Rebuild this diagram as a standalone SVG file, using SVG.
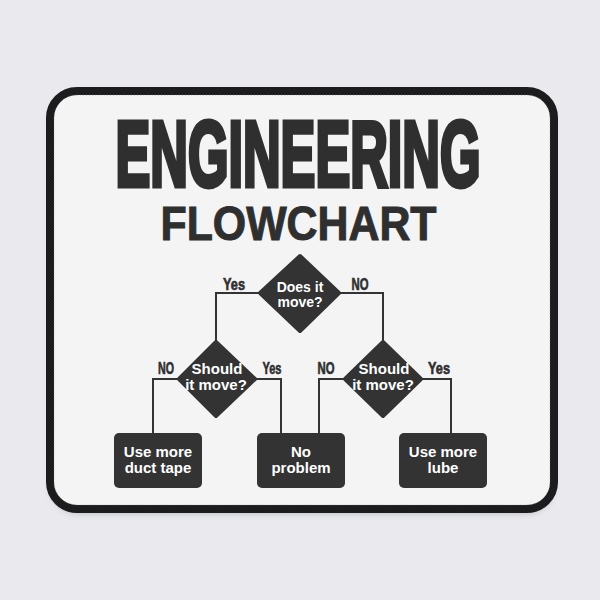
<svg xmlns="http://www.w3.org/2000/svg" width="600" height="600" viewBox="0 0 600 600">
<defs>
<filter id="sh" x="-10%" y="-10%" width="120%" height="130%">
<feGaussianBlur stdDeviation="3"/>
</filter>
</defs>
<style>
.title{font-family:"Liberation Sans",Arial,sans-serif;font-weight:bold;fill:#2f2f2f;stroke:#2f2f2f;stroke-linejoin:miter;text-anchor:middle}
.node{fill:#333333}
.dia{fill:#333333;stroke:#333333;stroke-width:4;stroke-linejoin:round}
.ntext{font-family:"Liberation Sans",Arial,sans-serif;font-weight:bold;fill:#ffffff;text-anchor:middle}
.lbl{font-family:"Liberation Sans",Arial,sans-serif;font-weight:bold;fill:#2f2f2f;stroke:#2f2f2f;stroke-width:0.6;text-anchor:middle;font-size:16px}
.conn{fill:none;stroke:#333333;stroke-width:2}
</style>
<rect x="0" y="0" width="600" height="600" fill="#e9e9ee"/>
<g id="mat">
<rect x="50" y="94" width="504" height="420" rx="28" fill="#9a9aa4" opacity="0.5" filter="url(#sh)"/>
<rect x="50" y="91" width="504" height="418" rx="27" fill="#f4f4f4" stroke="#1c1c1e" stroke-width="8"/>
<rect x="54" y="95" width="496" height="410" rx="23" fill="none" stroke="#777" stroke-width="1" stroke-dasharray="1 2" opacity="0.6"/>
</g>
<g id="title">
<text class="title" x="298" y="185.5" font-size="93" stroke-width="5" textLength="365" lengthAdjust="spacingAndGlyphs">ENGINEERING</text>
<text class="title" x="298.5" y="239.5" font-size="48" stroke-width="1" textLength="276" lengthAdjust="spacingAndGlyphs">FLOWCHART</text>
</g>
<g id="connectors">
<path class="conn" d="M262,293 H216 V345"/>
<path class="conn" d="M338,293 H383 V345"/>
<path class="conn" d="M180,379 H153 V434"/>
<path class="conn" d="M253,379 H281 V434"/>
<path class="conn" d="M346,379 H319 V434"/>
<path class="conn" d="M420,379 H451 V434"/>
</g>
<g id="labels">
<text class="lbl" x="234" y="290" font-size="17" textLength="22" lengthAdjust="spacingAndGlyphs">Yes</text>
<text class="lbl" x="360" y="290" font-size="17" textLength="17" lengthAdjust="spacingAndGlyphs">NO</text>
<text class="lbl" x="166" y="374" textLength="16" lengthAdjust="spacingAndGlyphs">NO</text>
<text class="lbl" x="272" y="374" textLength="19" lengthAdjust="spacingAndGlyphs">Yes</text>
<text class="lbl" x="326" y="374" textLength="17" lengthAdjust="spacingAndGlyphs">NO</text>
<text class="lbl" x="439" y="374" textLength="22" lengthAdjust="spacingAndGlyphs">Yes</text>
</g>
<g id="q1">
<polygon class="dia" points="300,256 339,293 300,331 260,293"/>
<text class="ntext" x="300" y="292" font-size="14">Does it</text>
<text class="ntext" x="300" y="307" font-size="14">move?</text>
</g>
<g id="q2">
<polygon class="dia" points="216,342 255,379 216,416 179,379"/>
<text class="ntext" x="217" y="374" font-size="15">Should</text>
<text class="ntext" x="216" y="390" font-size="15">it move?</text>
</g>
<g id="q3">
<polygon class="dia" points="383,342 421,379 383,416 345,379"/>
<text class="ntext" x="384" y="374" font-size="15">Should</text>
<text class="ntext" x="383" y="390" font-size="15">it move?</text>
</g>
<g id="r1">
<rect class="node" x="114" y="433" width="88" height="55" rx="5"/>
<text class="ntext" x="158" y="457" font-size="15">Use more</text>
<text class="ntext" x="158" y="473" font-size="15">duct tape</text>
</g>
<g id="r2">
<rect class="node" x="257" y="433" width="88" height="55" rx="5"/>
<text class="ntext" x="301" y="457" font-size="15">No</text>
<text class="ntext" x="301" y="473" font-size="15">problem</text>
</g>
<g id="r3">
<rect class="node" x="399" y="433" width="88" height="55" rx="5"/>
<text class="ntext" x="443" y="457" font-size="15">Use more</text>
<text class="ntext" x="443" y="473" font-size="15">lube</text>
</g>
</svg>
